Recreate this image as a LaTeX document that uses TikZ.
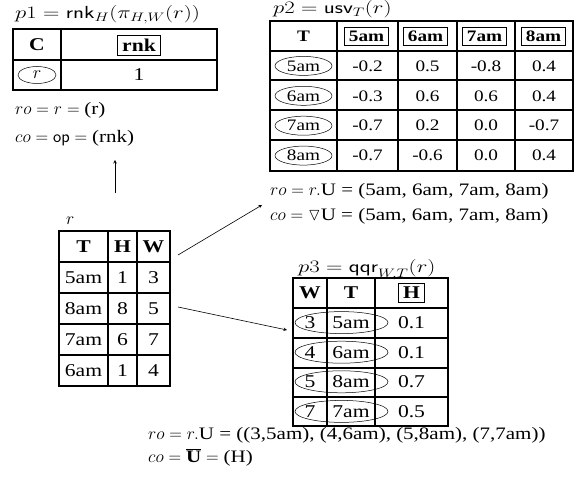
\documentclass[tikz,border=0pt]{standalone}
\usepackage{fix-cm}
\usepackage{amsmath, amssymb}
\usepackage{graphicx}
\usepackage{fontspec}
\setmainfont{Liberation Serif}[FakeStretch=1.2]
\usetikzlibrary{calc, shapes.geometric}

\newcommand{\smallcell}{\fontsize{16}{19}\selectfont}
\newcommand{\bigcell}{\fontsize{18}{21}\selectfont}
\newcommand{\capfont}{\fontsize{17.5}{21}\selectfont}
\newcommand{\widen}[1]{\scalebox{1.3}[1]{#1}}

\tikzset{
	grid/.style = {line width = 1.6pt},
	hd/.style = {execute at begin node = \bfseries},
	frame/.style = {line width = 0.5pt},
	oval/.style = {draw, ellipse, line width = 0.5pt, inner sep = 0pt},
	caption/.style = {anchor = base west, inner sep = 0pt, font = \capfont},
	link/.style = {-stealth, line width = 0.6pt}
}

\begin{document}
\begin{tikzpicture}[x = 1pt, y = -1pt, font = \bigcell]
		\useasboundingbox (0,0) rectangle (582,486);
		
		%table p1
		\node [caption] (p1title) at (15,19) {\widen{$p1 = \mathsf{rnk}_{H}(\pi_{H,W}(r))$}};
		\draw [grid] (13,29) rectangle (217,90);
		\draw [grid] (13,60) -- (217,60);
		\draw [grid] (61,29) -- (61,90);
		\node [hd] (p1h1) at (37,45) {C};
		\node [hd] (p1h2) at (139,45) {rnk};
		\draw [frame] ($(p1h2.south west)+(-1,0)$) rectangle ($(p1h2.north east)+(1,0)$);
		\node [oval, minimum width = 38pt, minimum height = 17pt] (p1a1) at (37,75) {$r$};
		\node (p1a2) at (139,75) {1};
		\node [caption] (p1ro) at (15,115) {$ro = r = {}$(r)};
		\node [caption] (p1co) at (15,143) {$co = \mathsf{op} = {}$(rnk)};
		
		%table p2
		\node [caption] (p2title) at (273,14) {\widen{$p2 = \mathsf{usv}_{T}(r)$}};
		\begin{scope}[font = \smallcell]
		\draw [grid] (270,21) rectangle (573,171);
		\foreach \y in {51,80,110,140}
			\draw [grid] (270,\y) -- (573,\y);
		\foreach \x in {337,398,457,515}
			\draw [grid] (\x,21) -- (\x,171);
		\node [hd] (p2h0) at (303.5,36) {T};
		\foreach \t [count = \i] in {5am,6am,7am,8am}{
			\node [hd] (p2h\i) at ($(337,36)+(\i*59-29.5,0)$) {\t};
			\draw [frame] ($(p2h\i.south west)+(-1,0)$) rectangle ($(p2h\i.north east)+(1,0)$);
		}
		\foreach \t/\a/\b/\c/\d [count = \j] in {5am/-0.2/0.5/-0.8/0.4, 6am/-0.3/0.6/0.6/0.4, 7am/-0.7/0.2/0.0/-0.7, 8am/-0.7/-0.6/0.0/0.4}{
			\node [oval, minimum width = 57pt, minimum height = 19pt] (p2r\j) at (303.5,36+\j*29.9) {\t};
			\node (p2r\j a) at (367.5,36+\j*29.9) {\a};
			\node (p2r\j b) at (427.5,36+\j*29.9) {\b};
			\node (p2r\j c) at (486,36+\j*29.9) {\c};
			\node (p2r\j d) at (544,36+\j*29.9) {\d};
		}
		\end{scope}
		\node [caption] (p2ro) at (270,196) {$ro = r.$U = (5am, 6am, 7am, 8am)};
		\node [caption] (p2co) at (270,221) {$co = \triangledown$U = (5am, 6am, 7am, 8am)};
		
		%input table r
		\node [caption] (rtitle) at (66,225) {$r$};
		\draw [grid, line width = 1.3pt] (59,231) rectangle (170,386);
		\foreach \y in {262,293,324,355}
			\draw [grid, line width = 1.3pt] (59,\y) -- (170,\y);
		\foreach \x in {108,137}
			\draw [grid, line width = 1.3pt] (\x,231) -- (\x,386);
		\node [hd] (rh1) at (83.5,246.5) {T};
		\node [hd] (rh2) at (122.5,246.5) {H};
		\node [hd] (rh3) at (153.5,246.5) {W};
		\foreach \t/\h/\w [count = \j] in {5am/1/3, 8am/8/5, 7am/6/7, 6am/1/4}{
			\node (rr\j a) at (83.5,246.5+\j*31) {\t};
			\node (rr\j b) at (122.5,246.5+\j*31) {\h};
			\node (rr\j c) at (153.5,246.5+\j*31) {\w};
		}
		
		%table p3
		\node [caption] (p3title) at (298,273) {\widen{$p3 = \mathsf{qqr}_{W,T}(r)$}};
		\foreach \j in {1,...,4}
			\node [oval, minimum width = 93pt, minimum height = 22pt] (p3o\j) at (341.5,293+\j*29.6) {};
		\draw [grid] (293,278) rectangle (448,426);
		\foreach \y in {308,338,368,397}
			\draw [grid] (293,\y) -- (448,\y);
		\foreach \x in {327,375}
			\draw [grid, line width = 2.2pt] (\x,278) -- (\x,426);
		\node [hd] (p3h1) at (310,293) {W};
		\node [hd] (p3h2) at (351,293) {T};
		\node [hd] (p3h3) at (411.5,293) {H};
		\draw [frame] ($(p3h3.south west)+(-1,0)$) rectangle ($(p3h3.north east)+(1,0)$);
		\foreach \w/\t/\h [count = \j] in {3/5am/0.1, 4/6am/0.1, 5/8am/0.7, 7/7am/0.5}{
			\node (p3r\j a) at (310,293+\j*29.6) {\w};
			\node (p3r\j b) at (351,293+\j*29.6) {\t};
			\node (p3r\j c) at (411.5,293+\j*29.6) {\h};
		}
		\node [caption] (p3ro) at (148,440) {$ro = r.$U = ((3,5am), (4,6am), (5,8am), (7,7am))};
		\node [caption] (p3co) at (148,463) {$co = \overline{\textbf{U}} = {}$(H)};
		
		%arrows
		\coordinate (upfrom) at (115,193);
		\coordinate (upto) at (115,160);
		\coordinate (ufrom) at (178,255);
		\coordinate (uto) at (262,205);
		\coordinate (qfrom) at (178,307);
		\coordinate (qto) at (287,330);
		\draw [link] (upfrom) -- (upto);
		\draw [link] (ufrom) -- (uto);
		\draw [link] (qfrom) -- (qto);
	\end{tikzpicture}
\end{document}
